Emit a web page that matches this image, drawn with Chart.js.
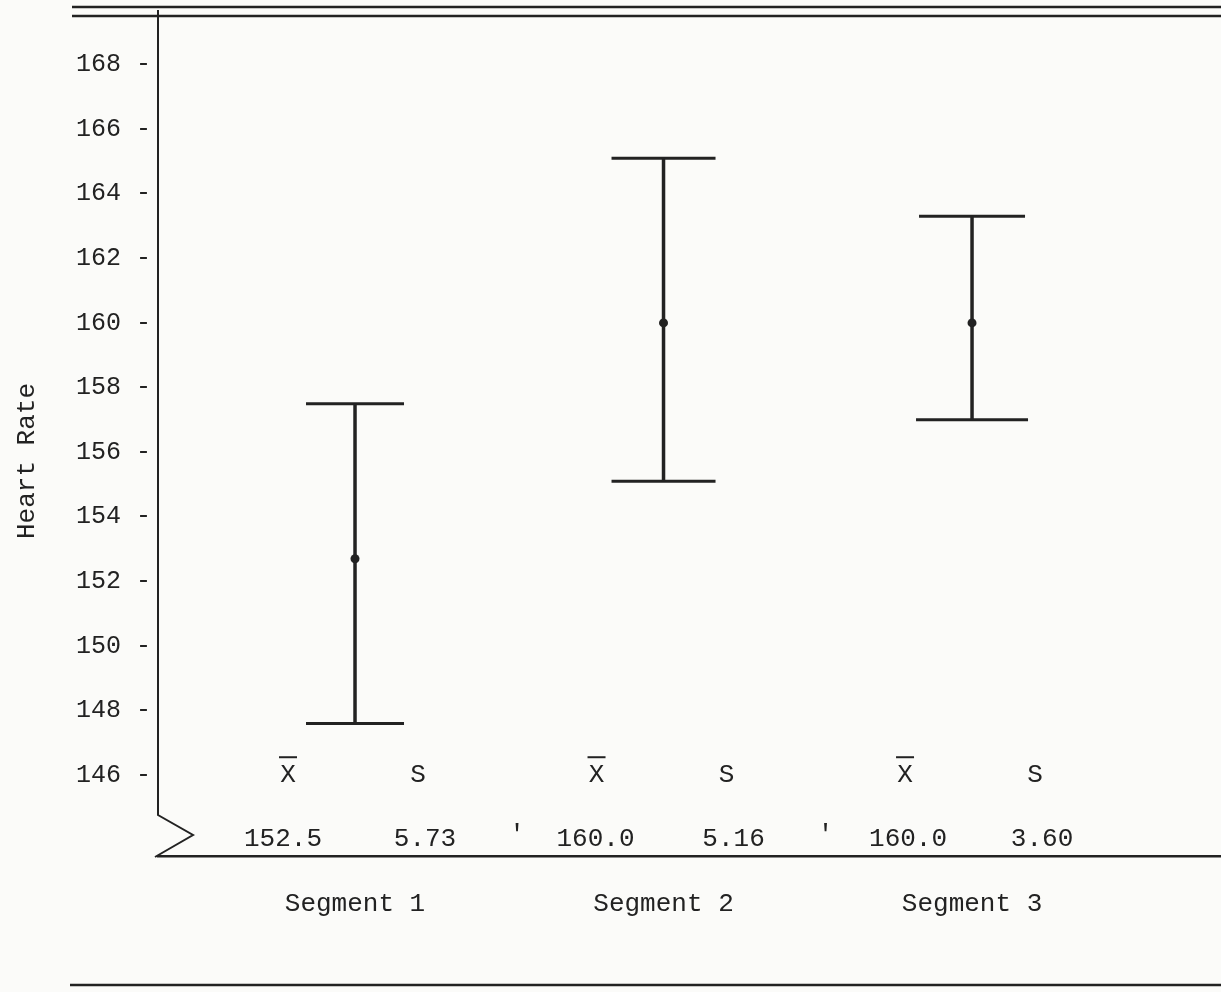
<!DOCTYPE html>
<html>
<head>
<meta charset="utf-8">
<script src="https://cdn.jsdelivr.net/npm/chart.js@4.4.1/dist/chart.umd.min.js"></script>
<style>
  html, body { margin: 0; padding: 0; background: #fbfbf9; }
</style>
</head>
<body>
<canvas id="myChart" width="1221" height="992"></canvas>
<script>
// values
const segments = ['Segment 1', 'Segment 2', 'Segment 3'];
const segmentPos = [1, 2, 3];
const plottedMean = [152.7, 160.0, 160.0];
const upperBar = [157.5, 165.1, 163.3];
const lowerBar = [147.6, 155.1, 157.0];
const meanText = [152.5, 160.0, 160.0];
const sdText = [5.73, 5.16, 3.60];
const yTicks = [146, 148, 150, 152, 154, 156, 158, 160, 162, 164, 166, 168];
const yTitle = 'Heart Rate';

const INK = '#222222';
const FONT = '"Liberation Mono", "DejaVu Sans Mono", monospace';

// vertical whiskers, one line dataset per segment
const whiskers = segmentPos.map((x, i) => ({
  type: 'scatter',
  showLine: true,
  data: [{ x: x, y: lowerBar[i] }, { x: x, y: upperBar[i] }],
  borderColor: INK,
  borderWidth: 3.5,
  pointRadius: 0
}));

const caps = {
  type: 'scatter',
  data: segmentPos.map((x, i) => ({ x: x, y: upperBar[i] }))
    .concat(segmentPos.map((x, i) => ({ x: x, y: lowerBar[i] }))),
  pointStyle: 'line',
  pointRadius: [49, 52, 53, 49, 52, 56],
  pointBorderWidth: 3,
  borderColor: INK
};

const dots = {
  type: 'scatter',
  data: segmentPos.map((x, i) => ({ x: x, y: plottedMean[i] })),
  pointRadius: 4.5,
  pointBackgroundColor: INK,
  pointBorderColor: INK,
  pointBorderWidth: 0
};

const paper = {
  id: 'paper',
  afterDraw(chart) {
    const ctx = chart.ctx;
    const area = chart.chartArea;
    const xs = chart.scales.x;
    ctx.save();
    ctx.strokeStyle = INK;
    ctx.fillStyle = INK;

    // frame rules
    ctx.lineWidth = 2.5;
    ctx.beginPath();
    ctx.moveTo(72, 7); ctx.lineTo(1221, 7);
    ctx.moveTo(72, 16); ctx.lineTo(1221, 16);
    ctx.moveTo(70, 985); ctx.lineTo(1221, 985);
    ctx.stroke();

    // y axis with break symbol
    ctx.lineWidth = 2;
    ctx.beginPath();
    ctx.moveTo(area.left, 10);
    ctx.lineTo(area.left, area.bottom - 41);
    ctx.lineTo(area.left + 35, area.bottom - 21);
    ctx.lineTo(area.left - 3, area.bottom + 1);
    ctx.stroke();

    // y title
    ctx.font = '26px ' + FONT;
    ctx.textAlign = 'center';
    ctx.textBaseline = 'middle';
    ctx.save();
    ctx.translate(27, 461);
    ctx.rotate(-Math.PI / 2);
    ctx.fillText(yTitle, 0, 0);
    ctx.restore();

    // summary stats under each segment
    const headY = chart.scales.y.getPixelForValue(146);
    const valY = area.bottom - 17;
    segmentPos.forEach((p, i) => {
      const cx = xs.getPixelForValue(p);
      ctx.fillText('X', cx - 67, headY);
      ctx.lineWidth = 2;
      ctx.beginPath();
      ctx.moveTo(cx - 76, headY - 18);
      ctx.lineTo(cx - 58, headY - 18);
      ctx.stroke();
      ctx.fillText('S', cx + 63, headY);
      ctx.fillText(meanText[i].toFixed(1), cx - 72 + i * 4, valY);
      ctx.fillText(sdText[i].toFixed(2), cx + 70, valY);
      if (i < segmentPos.length - 1) {
        ctx.fillText("'", cx + 162, valY - 4);
      }
    });
    ctx.restore();
  }
};

new Chart(document.getElementById('myChart').getContext('2d'), {
  type: 'scatter',
  data: { datasets: whiskers.concat([caps, dots]) },
  options: {
    responsive: false,
    animation: false,
    layout: { autoPadding: false, padding: { top: 16, left: 0, right: 0, bottom: 0 } },
    plugins: { legend: { display: false }, tooltip: { enabled: false } },
    scales: {
      x: {
        type: 'linear',
        min: 0.3614,
        max: 3.807,
        grid: { display: false },
        border: { display: true, color: INK, width: 2.5 },
        afterBuildTicks: s => { s.ticks = segmentPos.map(v => ({ value: v })); },
        afterFit: s => { s.height = 136; },
        ticks: {
          padding: 25,
          color: INK,
          font: { family: FONT, size: 26 },
          callback: v => segments[segmentPos.indexOf(v)]
        }
      },
      y: {
        min: 143.5,
        max: 169.5,
        grid: { display: false },
        border: { display: false },
        afterBuildTicks: s => { s.ticks = yTicks.map(v => ({ value: v })); },
        afterFit: s => { s.width = 158; },
        ticks: {
          padding: -1,
          color: INK,
          font: { family: FONT, size: 25 },
          callback: v => v + ' -'
        }
      }
    }
  },
  plugins: [paper]
});
</script>
</body>
</html>
